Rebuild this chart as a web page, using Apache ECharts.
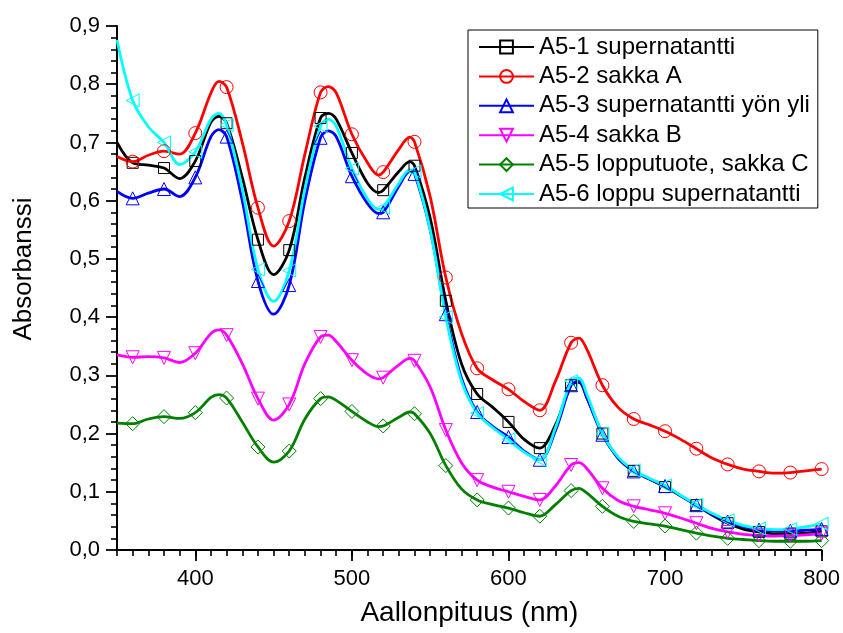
<!DOCTYPE html>
<html>
<head>
<meta charset="utf-8">
<script src="https://cdn.jsdelivr.net/npm/echarts@6/dist/echarts.min.js"></script>
<style>
  html, body { margin: 0; padding: 0; background: #fff; }
  #chart { width: 843px; height: 633px; }
</style>
</head>
<body>
<div id="chart"></div>
<script>
// Wavelengths (nm) at which the absorbance spectra are sampled
const wavelengths = [350,360,370,380,390,400,410,415,420,430,440,450,460,470,480,485,490,500,510,517,520,530,537,540,550,560,570,580,590,600,610,620,630,640,645,650,660,670,680,690,700,710,720,730,740,750,760,770,780,790,800];

const seriesNames = [
  'A5-1 supernatantti',
  'A5-2 sakka A',
  'A5-3 supernatantti yön yli',
  'A5-4 sakka B',
  'A5-5 lopputuote, sakka C',
  'A5-6 loppu supernatantti'
];

const a51 = [0.700,0.665,0.661,0.656,0.638,0.668,0.735,0.745,0.733,0.640,0.533,0.473,0.515,0.640,0.742,0.750,0.740,0.682,0.630,0.614,0.618,0.650,0.667,0.660,0.570,0.428,0.320,0.268,0.245,0.220,0.190,0.175,0.215,0.283,0.288,0.262,0.200,0.158,0.136,0.122,0.108,0.093,0.077,0.060,0.046,0.036,0.031,0.028,0.028,0.029,0.032];
const a52 = [0.676,0.667,0.678,0.685,0.680,0.716,0.785,0.805,0.795,0.700,0.588,0.522,0.565,0.680,0.786,0.796,0.785,0.714,0.665,0.644,0.649,0.688,0.709,0.701,0.607,0.468,0.372,0.312,0.292,0.276,0.255,0.240,0.290,0.356,0.364,0.345,0.283,0.245,0.225,0.215,0.204,0.190,0.174,0.158,0.147,0.139,0.135,0.132,0.133,0.136,0.139];
const a53 = [0.616,0.604,0.613,0.620,0.607,0.640,0.710,0.722,0.710,0.600,0.462,0.405,0.455,0.600,0.708,0.720,0.710,0.642,0.595,0.578,0.580,0.625,0.650,0.646,0.550,0.405,0.295,0.237,0.212,0.194,0.170,0.155,0.205,0.283,0.290,0.262,0.198,0.158,0.135,0.122,0.110,0.093,0.077,0.062,0.049,0.040,0.035,0.033,0.033,0.034,0.036];
const a54 = [0.335,0.331,0.332,0.330,0.322,0.338,0.372,0.378,0.369,0.320,0.260,0.223,0.250,0.320,0.366,0.369,0.358,0.326,0.302,0.294,0.296,0.318,0.329,0.325,0.280,0.206,0.150,0.120,0.108,0.100,0.092,0.086,0.110,0.146,0.150,0.140,0.106,0.085,0.075,0.069,0.063,0.055,0.046,0.037,0.031,0.027,0.025,0.024,0.025,0.026,0.028];
const a55 = [0.218,0.217,0.225,0.229,0.226,0.236,0.262,0.267,0.261,0.220,0.177,0.151,0.170,0.225,0.260,0.263,0.257,0.238,0.220,0.212,0.213,0.228,0.237,0.234,0.200,0.145,0.105,0.086,0.078,0.072,0.064,0.058,0.078,0.102,0.106,0.098,0.075,0.058,0.049,0.045,0.041,0.035,0.029,0.024,0.020,0.018,0.016,0.015,0.015,0.015,0.016];
const a56 = [0.876,0.772,0.727,0.700,0.662,0.684,0.740,0.750,0.730,0.620,0.482,0.427,0.480,0.620,0.728,0.740,0.728,0.655,0.603,0.585,0.588,0.630,0.653,0.650,0.550,0.400,0.290,0.235,0.210,0.190,0.168,0.155,0.210,0.290,0.295,0.268,0.200,0.160,0.137,0.123,0.111,0.094,0.078,0.063,0.051,0.042,0.037,0.035,0.036,0.040,0.045];

// Axis tick labels
const xTickLabels = [400, 500, 600, 700, 800];
const yTickLabels = [0, 0.1, 0.2, 0.3, 0.4, 0.5, 0.6, 0.7, 0.8, 0.9];

// Markers are placed every 20 nm
const markerStep = 20;

const styles = [
  { color: '#000000', symbol: 'rect', size: 11, rotate: 0 },
  { color: '#ff0000', symbol: 'circle', size: 13, rotate: 0 },
  { color: '#0000ff', symbol: 'triangle', size: 13, rotate: 0 },
  { color: '#ff00ff', symbol: 'triangle', size: 13, rotate: 180 },
  { color: '#008000', symbol: 'diamond', size: 14, rotate: 0 },
  { color: '#00ffff', symbol: 'triangle', size: 13, rotate: 90 }
];

const values = [a51, a52, a53, a54, a55, a56];
const FONT = 'Liberation Sans, Arial, sans-serif';

function buildSeries(name, vals, st) {
  return {
    name: name,
    type: 'line',
    xAxisIndex: 0,
    yAxisIndex: 0,
    smooth: 0.35,
    symbol: st.symbol,
    symbolSize: st.size,
    symbolRotate: st.rotate,
    showSymbol: true,
    showAllSymbol: true,
    lineStyle: { color: st.color, width: 2.8 },
    itemStyle: { color: 'rgba(255,255,255,0)', borderColor: st.color, borderWidth: 1 },
    emphasis: { disabled: true },
    data: wavelengths.map((w, i) => {
      const marked = w >= 360 && w % markerStep === 0;
      return marked ? { value: [w, vals[i]] } : { value: [w, vals[i]], symbol: 'none' };
    })
  };
}

const chart = echarts.init(document.getElementById('chart'), null, { renderer: 'canvas' });

chart.setOption({
  animation: false,
  backgroundColor: '#ffffff',
  grid: { left: 117, right: 21, top: 26, bottom: 83, containLabel: false },
  legend: {
    orient: 'vertical',
    left: 468,
    top: 30,
    width: 350,
    padding: [5, 8, 2, 10],
    itemGap: 5.4,
    itemWidth: 55,
    itemHeight: 16,
    backgroundColor: '#ffffff',
    borderColor: '#000000',
    borderWidth: 1,
    textStyle: { fontFamily: FONT, fontSize: 24, color: '#000', lineHeight: 24 },
    data: seriesNames
  },
  xAxis: [
    {
      // minor ticks every 10 nm
      type: 'value',
      min: 350,
      max: 800,
      interval: 10,
      position: 'bottom',
      axisLine: { show: true, onZero: false, lineStyle: { color: '#000', width: 2 } },
      axisTick: { show: true, inside: false, length: 6, lineStyle: { color: '#000', width: 1.6 } },
      axisLabel: { show: false },
      splitLine: { show: false }
    },
    {
      type: 'value',
      min: 350,
      max: 800,
      position: 'bottom',
      axisLine: { show: false, onZero: false },
      axisTick: { show: true, inside: false, length: 11, customValues: xTickLabels, lineStyle: { color: '#000', width: 1.8 } },
      axisLabel: { show: true, customValues: xTickLabels, margin: 18, fontFamily: FONT, fontSize: 22, color: '#000' },
      splitLine: { show: false },
      name: 'Aallonpituus (nm)',
      nameLocation: 'middle',
      nameGap: 49,
      nameTextStyle: { fontFamily: FONT, fontSize: 28, color: '#000' }
    }
  ],
  yAxis: {
    type: 'value',
    min: 0,
    max: 0.9,
    interval: 0.1,
    axisLine: { show: true, onZero: false, lineStyle: { color: '#000', width: 2 } },
    axisTick: { show: true, inside: false, length: 11, lineStyle: { color: '#000', width: 1.8 } },
    minorTick: { show: true, splitNumber: 5, length: 6, lineStyle: { color: '#000', width: 1.6 } },
    axisLabel: {
      margin: 17,
      fontFamily: FONT,
      fontSize: 22,
      color: '#000',
      formatter: v => yTickLabels.some(t => Math.abs(t - v) < 1e-9) ? v.toFixed(1).replace('.', ',') : ''
    },
    splitLine: { show: false },
    name: 'Absorbanssi',
    nameLocation: 'middle',
    nameGap: 80,
    nameTextStyle: { fontFamily: FONT, fontSize: 26, color: '#000', padding: [0, 0, 0, 38] }
  },
  series: values.map((vals, i) => buildSeries(seriesNames[i], vals, styles[i]))
});
</script>
</body>
</html>
